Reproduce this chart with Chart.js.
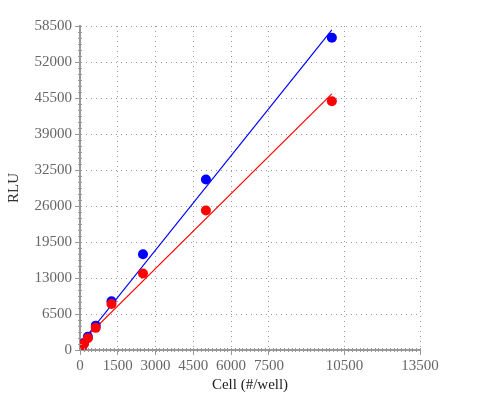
<!DOCTYPE html>
<html>
<head>
<meta charset="utf-8">
<script src="https://cdn.jsdelivr.net/npm/chart.js@4"></script>
<style>
  html, body { margin: 0; padding: 0; background: #fff; }
  canvas { display: block; }
</style>
</head>
<body>
<canvas id="chart" width="500" height="400"></canvas>
<script>
// cell counts per well (dilution series)
const cells = [10000, 5000, 2500, 1250, 625, 312.5, 156.25, 78.125, 39.06, 19.53, 0];
const blueRLU = [56400, 30800, 17300, 8800, 4400, 2400, 1250, 650, 330, 170, 0];
const redRLU = [44900, 25200, 13800, 8300, 4000, 2130, 1100, 560, 280, 140, 0];

// fitted lines, end points
const fitX = [0, 10000];
const blueFit = [1000, 57800];
const redFit = [1200, 46250];

const xTicks = [0, 1500, 3000, 4500, 6000, 7500, 10500, 13500];
const yTicks = [0, 6500, 13000, 19500, 26000, 32500, 39000, 45500, 52000, 58500];

const toPts = (xs, ys) => xs.map((x, i) => ({ x: x, y: ys[i] }));

// small minor tick marks along the axis lines
const minorTicks = {
  id: 'minorTicks',
  afterDraw(chart) {
    const ctx = chart.ctx;
    const xs = chart.scales.x, ys = chart.scales.y;
    ctx.save();
    ctx.strokeStyle = '#999';
    ctx.lineWidth = 1;
    ctx.beginPath();
    for (let v = 0; v <= 13500; v += 150) {
      const px = Math.round(xs.getPixelForValue(v)) + 0.5;
      ctx.moveTo(px, ys.bottom - 2);
      ctx.lineTo(px, ys.bottom + 2);
    }
    for (let v = 0; v <= 58500; v += 6500 / 6) {
      const py = Math.round(ys.getPixelForValue(v)) + 0.5;
      ctx.moveTo(xs.left - 2, py);
      ctx.lineTo(xs.left + 2, py);
    }
    ctx.stroke();
    ctx.restore();
  }
};

const tickFont = { family: 'Liberation Serif', size: 15 };

new Chart(document.getElementById('chart'), {
  type: 'scatter',
  data: {
    datasets: [
      {
        data: toPts(cells, redRLU),
        backgroundColor: '#ff0000',
        borderWidth: 0,
        pointRadius: 5,
        pointHoverRadius: 5,
        order: 1
      },
      {
        data: toPts(cells, blueRLU),
        backgroundColor: '#0000ff',
        borderWidth: 0,
        pointRadius: 5,
        pointHoverRadius: 5,
        order: 2
      },
      {
        data: toPts(fitX, redFit),
        showLine: true,
        borderColor: '#ff0000',
        borderWidth: 1.2,
        pointRadius: 0,
        order: 3
      },
      {
        data: toPts(fitX, blueFit),
        showLine: true,
        borderColor: '#0000ff',
        borderWidth: 1.2,
        pointRadius: 0,
        order: 4
      }
    ]
  },
  options: {
    responsive: false,
    animation: false,
    devicePixelRatio: 1,
    layout: { padding: { top: 26, right: 80, left: 0, bottom: 0 } },
    plugins: { legend: { display: false }, tooltip: { enabled: false } },
    scales: {
      x: {
        type: 'linear',
        min: 0,
        max: 13500,
        afterBuildTicks: s => { s.ticks = xTicks.map(v => ({ value: v })); },
        afterFit: s => { s.height = 50; },
        ticks: { font: tickFont, color: '#666', padding: 2, maxRotation: 0, autoSkip: false, callback: v => String(v) },
        grid: { color: '#999', tickColor: '#999', tickLength: 5, tickBorderDash: [] },
        border: { color: '#999', width: 2, dash: [1, 4] },
        title: {
          display: true,
          text: 'Cell (#/well)',
          color: '#222',
          font: { family: 'Liberation Serif', size: 15 },
          padding: { top: 0, bottom: 6 }
        }
      },
      y: {
        type: 'linear',
        min: 0,
        max: 58500,
        afterBuildTicks: s => { s.ticks = yTicks.map(v => ({ value: v })); },
        afterFit: s => { s.width = 80; },
        ticks: { font: tickFont, color: '#666', padding: 3, autoSkip: false, callback: v => String(v) },
        grid: { color: '#999', tickColor: '#999', tickLength: 5, tickBorderDash: [] },
        border: { color: '#999', width: 2, dash: [1, 4] },
        title: {
          display: true,
          text: 'RLU',
          color: '#333',
          font: { family: 'Liberation Serif', size: 15 },
          padding: { top: 5, bottom: 0 }
        }
      }
    }
  },
  plugins: [minorTicks]
});
</script>
</body>
</html>
